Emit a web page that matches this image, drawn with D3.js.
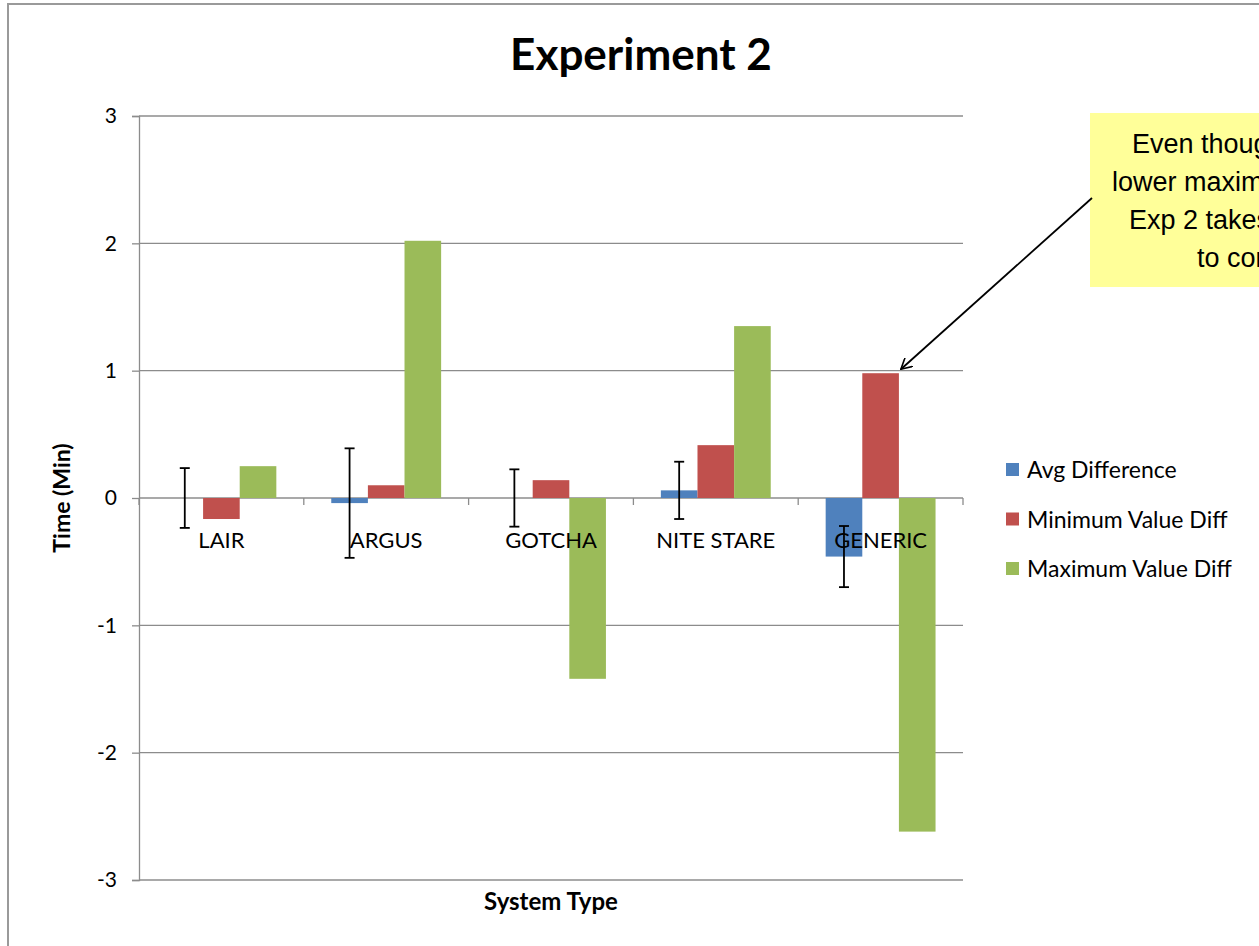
<!DOCTYPE html>
<html>
<head>
<meta charset="utf-8">
<script src="https://cdnjs.cloudflare.com/ajax/libs/d3/7.8.5/d3.min.js"></script>
<style>
  body { margin: 0; background: #fff; }
  text { font-family: Lato, "Open Sans", sans-serif; fill: #000; }
</style>
</head>
<body>
<svg id="chart"></svg>
<script>
const categories = ["LAIR", "ARGUS", "GOTCHA", "NITE STARE", "GENERIC"];
const seriesNames = ["Avg Difference", "Minimum Value Diff", "Maximum Value Diff"];
const avgDiff = [0, -0.04, 0, 0.06, -0.46];
const avgErr = [0.235, 0.43, 0.225, 0.225, 0.24];
const minDiff = [-0.165, 0.1, 0.14, 0.415, 0.98];
const maxDiff = [0.25, 2.02, -1.42, 1.35, -2.62];
const yTicks = [-3, -2, -1, 0, 1, 2, 3];
const colors = ["#4F81BD", "#C0504D", "#9BBB59"];
const noteLines = ["Even though", "lower maximum", "Exp 2 takes", "to complete"];

const w = 1259, h = 946;
const margin = { top: 116, left: 139, right: 296, bottom: 66 };
const innerWidth = w - margin.left - margin.right;
const innerHeight = h - margin.top - margin.bottom;

const svg = d3.select("#chart").attr("width", w).attr("height", h);

// chart frame
svg.append("rect")
  .attr("x", 8).attr("y", 4)
  .attr("width", 1270).attr("height", 960)
  .attr("fill", "none").attr("stroke", "#9a9a9a").attr("stroke-width", 2);

const g = svg.append("g").attr("transform", `translate(${margin.left},${margin.top})`);

const x0 = d3.scaleBand().domain(categories).range([0, innerWidth]).padding(0);
const x1 = d3.scaleBand().domain(seriesNames).range([0, x0.bandwidth()])
  .paddingInner(0).paddingOuter(0.75);
const y = d3.scaleLinear().domain([-3, 3]).range([innerHeight, 0]);

// gridlines
g.append("g").selectAll("line").data(yTicks).enter().append("line")
  .attr("x1", 0).attr("x2", innerWidth)
  .attr("y1", d => y(d)).attr("y2", d => y(d))
  .attr("stroke", "#8c8c8c").attr("stroke-width", 1.3);

// y axis
const yAxisG = g.append("g").call(d3.axisLeft(y).tickValues(yTicks).tickSize(7).tickPadding(15).tickFormat(d => String(d)));
yAxisG.select(".domain").attr("stroke", "#8c8c8c").attr("stroke-width", 1.3);
yAxisG.selectAll(".tick line").attr("stroke", "#8c8c8c").attr("stroke-width", 1.3);
yAxisG.selectAll("text").style("font-size", "21px").style("font-family", "Lato, sans-serif").attr("fill", "#000");

// bars
const rows = categories.map((c, i) => ({ cat: c, vals: [avgDiff[i], minDiff[i], maxDiff[i]], err: avgErr[i] }));
const groups = g.selectAll(".grp").data(rows).enter().append("g")
  .attr("transform", d => `translate(${x0(d.cat)},0)`);
groups.selectAll("rect")
  .data(d => d.vals.map((v, j) => ({ name: seriesNames[j], v: v, j: j })))
  .enter().append("rect")
  .attr("x", d => x1(d.name))
  .attr("width", x1.bandwidth())
  .attr("y", d => y(Math.max(0, d.v)))
  .attr("height", d => Math.abs(y(d.v) - y(0)))
  .attr("fill", d => colors[d.j]);

// x axis at zero: boundary ticks and labels
const xAxisG = g.append("g").attr("transform", `translate(0,${y(0)})`)
  .call(d3.axisBottom(x0).tickSize(0).tickPadding(34));
xAxisG.select(".domain").remove();
xAxisG.selectAll("text").style("font-size", "22px").style("font-family", "Lato, sans-serif").attr("fill", "#000");
g.append("g").selectAll("line")
  .data(d3.range(categories.length + 1))
  .enter().append("line")
  .attr("x1", i => i * x0.step()).attr("x2", i => i * x0.step())
  .attr("y1", y(0)).attr("y2", y(0) + 7)
  .attr("stroke", "#8c8c8c").attr("stroke-width", 1.3);

// error bars on avg
const errG = groups.append("g")
  .attr("transform", `translate(${x1(seriesNames[0]) + x1.bandwidth() / 2},0)`)
  .attr("stroke", "#000").attr("stroke-width", 1.8);
errG.append("line")
  .attr("y1", d => y(d.vals[0] + d.err)).attr("y2", d => y(d.vals[0] - d.err));
errG.append("line").attr("x1", -5).attr("x2", 5)
  .attr("y1", d => y(d.vals[0] + d.err)).attr("y2", d => y(d.vals[0] + d.err));
errG.append("line").attr("x1", -5).attr("x2", 5)
  .attr("y1", d => y(d.vals[0] - d.err)).attr("y2", d => y(d.vals[0] - d.err));

// title and axis titles
svg.append("text").text("Experiment 2")
  .attr("x", 641).attr("y", 70).attr("text-anchor", "middle")
  .style("font-size", "44px").style("font-weight", "bold");
svg.append("text").text("System Type")
  .attr("x", margin.left + innerWidth / 2).attr("y", 910).attr("text-anchor", "middle")
  .style("font-size", "24px").style("font-weight", "bold");
svg.append("text").text("Time (Min)")
  .attr("transform", `translate(70,${margin.top + y(0)})rotate(-90)`)
  .attr("text-anchor", "middle")
  .style("font-size", "23px").style("font-weight", "bold");

// legend
const legend = svg.append("g").attr("transform", "translate(1006,463)");
const li = legend.selectAll("g").data(seriesNames).enter().append("g")
  .attr("transform", (d, i) => `translate(0,${i * 49.5})`);
li.append("rect").attr("width", 13).attr("height", 13).attr("fill", (d, i) => colors[i]);
li.append("text").text(d => d).attr("x", 21).attr("y", 15).style("font-size", "23px");

// callout
svg.append("rect").attr("x", 1090).attr("y", 113).attr("width", 260).attr("height", 174)
  .attr("fill", "#FFFF99");
svg.append("g").selectAll("text").data(noteLines).enter().append("text")
  .text(d => d)
  .attr("x", 1090).attr("y", (d, i) => 153 + i * 38)
  .attr("dx", (d, i) => [42, 22, 39, 107][i])
  .style("font-family", "'Liberation Sans', Arial, sans-serif")
  .style("font-size", "27px");

// arrow to GENERIC minimum bar
svg.append("defs").append("marker")
  .attr("id", "arr").attr("viewBox", "0 0 12 12").attr("refX", 11).attr("refY", 6)
  .attr("markerWidth", 12).attr("markerHeight", 12).attr("markerUnits", "userSpaceOnUse")
  .attr("orient", "auto")
  .append("path").attr("d", "M0,0 L11,6 L0,12").attr("fill", "none").attr("stroke", "#000").attr("stroke-width", 1.6);
const tipX = margin.left + x0("GENERIC") + x1(seriesNames[1]) + x1.bandwidth() + 2;
const tipY = margin.top + y(minDiff[4]) - 4;
svg.append("line")
  .attr("x1", 1092).attr("y1", 198).attr("x2", tipX).attr("y2", tipY)
  .attr("stroke", "#000").attr("stroke-width", 1.8).attr("marker-end", "url(#arr)");
</script>
</body>
</html>
